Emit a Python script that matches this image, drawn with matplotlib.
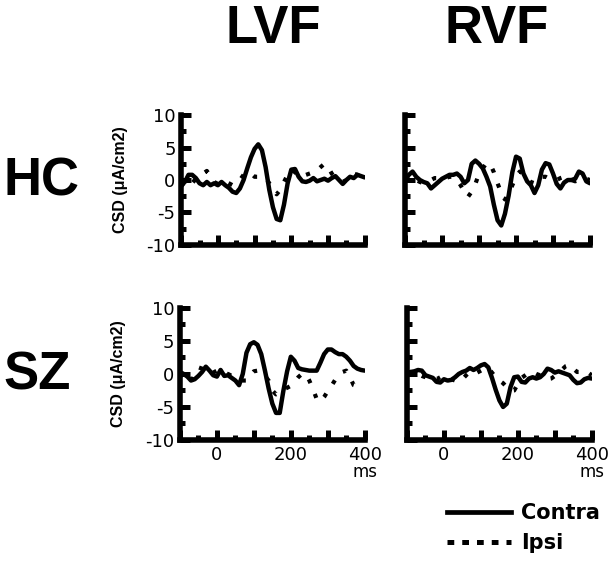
import matplotlib
matplotlib.use('Agg')
import matplotlib.pyplot as plt
from matplotlib.lines import Line2D
from matplotlib.ticker import MultipleLocator

plt.rcParams['axes.unicode_minus'] = False

# time axis (ms)
t = list(range(-100, 401, 10))

# HC, left visual field
hc_lvf_contra = [0.0, -0.3, 0.8, 0.8, 0.3, -0.5, -0.8, -0.3, -0.8, -0.5,
                 -0.8, -0.3, -0.8, -1.2, -1.8, -2.0, -1.3, 0.0, 1.8, 3.5,
                 4.8, 5.5, 4.6, 2.0, -1.5, -4.2, -6.0, -6.2, -3.8, -0.5,
                 1.6, 1.7, 0.5, -0.2, -0.3, -0.1, 0.3, -0.2, 0.0, 0.2,
                 -0.1, 0.3, 0.6, 0.0, -0.6, 0.0, 0.5, 0.3, 0.8, 0.6, 0.4]
hc_lvf_ipsi = [-0.5, -1.0, -1.2, -0.5, 0.2, 0.5, 1.0, 1.4, 0.5, -0.3,
               -0.6, -0.6, -0.2, -0.5, -0.8, -0.5, 0.0, 0.8, 1.2, 1.0,
               0.5, 0.5, 0.5, 0.3, -0.5, -1.5, -2.2, -1.5, -0.3, 0.8,
               1.6, 1.2, 0.6, 0.5, 0.8, 1.0, 1.2, 1.5, 2.0, 2.5,
               2.0, 1.0, 0.3, 0.0, -0.3, 0.0, 0.5, 1.0, 0.8, 0.5, 0.3]

# HC, right visual field
hc_rvf_contra = [0.0, 0.8, 1.3, 0.5, 0.0, -0.3, -0.5, -1.3, -0.8, -0.3,
                 0.2, 0.5, 0.8, 0.8, 1.0, 0.5, -0.5, 0.0, 2.5, 3.0,
                 2.5, 1.8, 0.5, -1.0, -3.8, -6.2, -7.0, -5.2, -2.4, 1.2,
                 3.6, 3.3, 1.0, -0.2, -0.8, -2.0, -0.8, 1.6, 2.6, 2.4,
                 1.0, -0.6, -1.3, -0.4, 0.0, 0.0, 0.2, 1.3, 1.0, -0.2, -0.5]
hc_rvf_ipsi = [0.3, 0.8, 0.5, 0.0, -0.3, -0.5, -0.3, 0.0, 0.3, 0.3,
               0.5, 0.3, 0.5, 0.5, 0.0, -0.8, -1.8, -2.6, -1.8, -0.6,
               1.0, 1.8, 2.6, 2.5, 1.2, -0.5, -2.0, -3.0, -2.2, -0.8,
               0.5, 1.3, 1.0, 0.3, -0.3, -0.5, 0.0, 0.5, 0.5, 0.2,
               0.0, 0.0, 0.3, 0.5, 0.3, 0.0, -0.2, 0.0, 0.3, 0.2, 0.0]

# SZ, left visual field
sz_lvf_contra = [0.3, 0.0, -0.4, -1.0, -0.8, -0.3, 0.3, 1.1, 0.5, -0.2,
                 -0.4, 0.6, -0.3, -0.2, -0.6, -1.0, -1.7, 0.0, 3.2, 4.5,
                 4.8, 4.4, 3.0, 0.5, -2.2, -4.5, -5.9, -5.9, -2.5, 0.4,
                 2.6, 2.0, 0.9, 0.7, 0.6, 0.5, 0.5, 0.5, 1.7, 3.0,
                 3.7, 3.7, 3.3, 3.0, 3.0, 2.6, 2.0, 1.2, 0.8, 0.6, 0.5]
sz_lvf_ipsi = [0.0, -0.5, -1.0, -1.3, 0.0, 1.0, 0.8, 0.3, 0.0, 0.2,
               0.5, 0.3, 0.0, 0.0, -0.3, -0.5, -0.8, -1.0, -1.0, -0.2,
               0.4, 0.5, 0.2, -0.3, -1.0, -2.5, -3.1, -2.8, -2.3, -2.1,
               -1.8, -1.2, -0.5, 0.0, 0.0, -1.0, -2.3, -3.8, -4.2, -3.5,
               -2.6, -1.8, -0.9, -0.3, 0.3, 0.5, -0.5, -1.7, -1.9, -2.0, -2.2]

# SZ, right visual field
sz_rvf_contra = [0.0, 0.3, 0.4, 0.6, 0.5, -0.2, -0.4, -0.6, -1.2, -1.3,
                 -0.8, -1.0, -0.9, -0.5, 0.0, 0.3, 0.5, 0.9, 0.6, 0.9,
                 1.3, 1.5, 1.0, -0.6, -2.4, -4.0, -5.0, -4.5, -2.0, -0.5,
                 -0.4, -1.2, -1.3, -0.7, -0.5, -0.7, -0.5, 0.0, 0.8, 0.6,
                 0.2, 0.4, 0.2, 0.0, -0.2, -0.9, -1.4, -1.3, -0.8, -0.6, -0.7]
sz_rvf_ipsi = [0.2, 0.3, 0.3, 0.0, -0.3, -0.5, -0.8, -0.6, -0.8, -0.5,
               -0.3, -0.5, -0.8, -1.0, -1.2, -0.8, -0.2, 0.3, 0.5, 0.2,
               0.5, 0.8, 0.9, 0.2, -0.5, -1.0, -1.4, -2.0, -2.6, -2.5,
               -1.5, -0.6, -0.2, 0.2, 0.3, 0.0, -0.2, -0.5, -0.8, -0.7,
               -0.3, 0.2, 0.7, 1.2, 1.4, 0.8, 0.3, 0.3, 0.5, 0.2, -0.2]

fig = plt.figure(figsize=(6.12, 5.67), dpi=100)

# axes boxes in figure fractions
boxes = {
    (0, 0): [0.296, 0.568, 0.300, 0.229],
    (0, 1): [0.662, 0.568, 0.302, 0.229],
    (1, 0): [0.294, 0.224, 0.302, 0.233],
    (1, 1): [0.665, 0.224, 0.302, 0.233],
}
data = {
    (0, 0): (hc_lvf_contra, hc_lvf_ipsi),
    (0, 1): (hc_rvf_contra, hc_rvf_ipsi),
    (1, 0): (sz_lvf_contra, sz_lvf_ipsi),
    (1, 1): (sz_rvf_contra, sz_rvf_ipsi),
}

ipsi_style = (0, (1.0, 2.8))

for (r, c), box in boxes.items():
    ax = fig.add_axes(box)
    contra, ipsi = data[(r, c)]
    ax.plot(t, ipsi, color='black', lw=3.0, linestyle=ipsi_style,
            dash_capstyle='butt')
    ax.plot(t, contra, color='black', lw=3.2, solid_joinstyle='round',
            solid_capstyle='round')
    ax.set_xlim(-100, 400)
    ax.set_ylim(-10, 10)
    for s in ['top', 'right']:
        ax.spines[s].set_visible(False)
    for s in ['left', 'bottom']:
        ax.spines[s].set_linewidth(4)
        ax.spines[s].set_capstyle('projecting')
    ax.yaxis.set_major_locator(MultipleLocator(5))
    ax.yaxis.set_minor_locator(MultipleLocator(2.5))
    ax.tick_params(which='both', direction='in', width=3.6, labelsize=13,
                   pad=4)
    ax.tick_params(which='major', length=7)
    ax.tick_params(which='minor', length=3.5)
    # long ticks every 100 ms, short ones in between
    ax.set_xticks(range(-100, 401, 100), minor=False)
    ax.set_xticklabels(['' if v not in (0, 200, 400) else str(v)
                        for v in range(-100, 401, 100)])
    ax.set_xticks(range(-50, 401, 100), minor=True)
    if r == 0:
        ax.tick_params(axis='x', labelbottom=False)
    else:
        ax.text(1.0, -0.24, 'ms', transform=ax.transAxes, ha='center',
                va='center', fontsize=12)
    if c == 1:
        ax.tick_params(axis='y', labelleft=False)
    else:
        ax.set_ylabel('CSD (\u03bcA/cm2)', family='Liberation Sans',
                      fontweight='bold', fontsize=11.5)
        ax.yaxis.set_label_coords(-0.29, 0.5)

# column / row headings
big = dict(family='Liberation Sans', fontweight='bold', fontsize=38)
fig.text(0.446, 0.924, 'LVF', ha='center', va='baseline', **big)
fig.text(0.811, 0.924, 'RVF', ha='center', va='baseline', **big)
fig.text(0.005, 1 - 195 / 567, 'HC', ha='left', va='baseline', **big)
fig.text(0.005, 1 - 390 / 567, 'SZ', ha='left', va='baseline', **big)

handles = [Line2D([], [], color='black', lw=3.4),
           Line2D([], [], color='black', lw=3.6, linestyle=(0, (1.35, 1.6)),
                  dash_capstyle='butt')]
fig.legend(handles, ['Contra', 'Ipsi'], loc='upper left',
           bbox_to_anchor=(0.730, 0.113), frameon=False,
           prop=dict(family='DejaVu Sans', weight='bold', size=15),
           handlelength=3.1, handletextpad=0.48, labelspacing=0.5,
           borderaxespad=0, borderpad=0)

fig.savefig('out.png', dpi=100)
